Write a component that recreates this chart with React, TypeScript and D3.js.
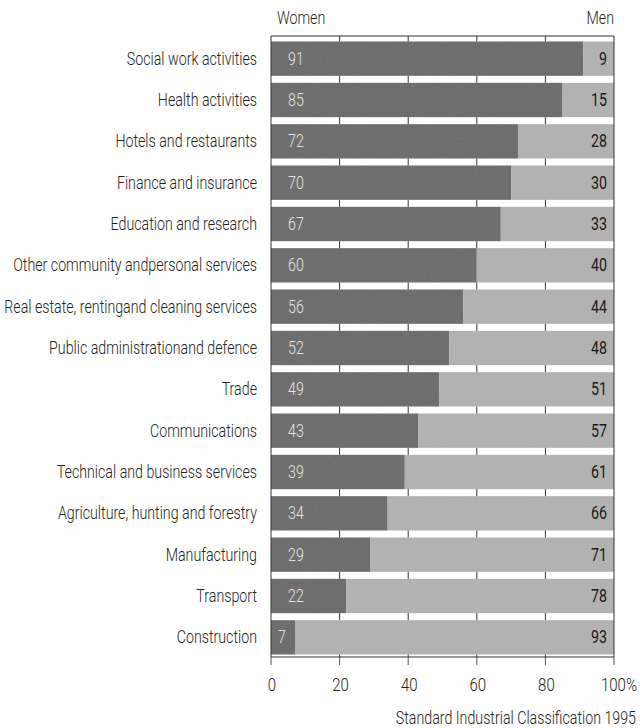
import React from "react";
import * as d3 from "d3";

const categories = [
  "Social work activities",
  "Health activities",
  "Hotels and restaurants",
  "Finance and insurance",
  "Education and research",
  "Other community andpersonal services",
  "Real estate, rentingand cleaning services",
  "Public administrationand defence",
  "Trade",
  "Communications",
  "Technical and business services",
  "Agriculture, hunting and forestry",
  "Manufacturing",
  "Transport",
  "Construction",
];
const women = [91, 85, 72, 70, 67, 60, 56, 52, 49, 43, 39, 34, 29, 22, 7];
const men = [9, 15, 28, 30, 33, 40, 44, 48, 51, 57, 61, 66, 71, 78, 93];
const ticks = [0, 20, 40, 60, 80, 100];
const tickLabels = ["0", "20", "40", "60", "80", "100%"];

const FONT = "Roboto, 'Liberation Sans', sans-serif";
const SX = 0.79;

function CText(props: { x: number; y: number; size: number; fill: string; anchor?: string; weight?: number; children: React.ReactNode }) {
  const { x, y, size, fill, anchor = "start", weight = 300, children } = props;
  return (
    <text
      transform={`translate(${x},${y}) scale(${SX},1)`}
      fontFamily={FONT}
      fontSize={size}
      fontWeight={weight}
      fill={fill}
      textAnchor={anchor}
    >
      {children}
    </text>
  );
}

export default function App() {
  const W = 640, H = 728;
  const left = 271, right = 614, top = 36, bottom = 657;
  const x = d3.scaleLinear().domain([0, 100]).range([left, right]);
  const y = d3.scaleBand<string>().domain(categories).range([top + 2, bottom + 1]).paddingInner(0.17).paddingOuter(0.085);
  const bw = y.bandwidth();
  const inner = ticks.filter((t) => t > 0 && t < 100);

  return (
    <svg width={W} height={H} style={{ position: "absolute", left: 0, top: 0, background: "#fff" }}>
      <defs>
        <filter id="grain" x="0" y="0" width="100%" height="100%">
          <feTurbulence type="fractalNoise" baseFrequency="0.9" numOctaves="2" seed="3" result="n" />
          <feColorMatrix in="n" type="matrix" values="0 0 0 0 0.5  0 0 0 0 0.5  0 0 0 0 0.5  0 0 0 0.12 0" result="g" />
          <feComposite in="g" in2="SourceGraphic" operator="in" result="gm" />
          <feMerge>
            <feMergeNode in="SourceGraphic" />
            <feMergeNode in="gm" />
          </feMerge>
        </filter>
      </defs>
      <CText x={277} y={24} size={18} fill="#222">Women</CText>
      <CText x={614} y={24} size={18} fill="#222" anchor="end">Men</CText>

      {categories.map((c, i) => {
        const y0 = y(c)!;
        const cy = y0 + bw / 2 + 6;
        const narrow = women[i] < 10;
        return (
          <g key={c}>
            <rect x={x(0)} y={y0} width={x(women[i]) - x(0)} height={bw} fill="#676767" filter="url(#grain)" />
            <rect x={x(women[i])} y={y0} width={x(100) - x(women[i])} height={bw} fill="#b1b1b1" filter="url(#grain)" />
            <CText
              x={narrow ? (x(0) + x(women[i])) / 2 - 1 : x(0) + 17}
              y={cy}
              size={18}
              fill="#e4e4e4"
              anchor={narrow ? "middle" : "start"}
            >
              {women[i]}
            </CText>
            <CText x={x(100) - 7} y={cy} size={18} fill="#1a1a1a" anchor="end" weight={400}>{men[i]}</CText>
            <CText x={257} y={cy} size={18} fill="#222" anchor="end">{c}</CText>
          </g>
        );
      })}

      {categories.map((c, i) => {
        const gTop = i === 0 ? top : y(categories[i - 1])! + bw;
        const gBot = y(c)!;
        return inner.map((t) => (
          <line key={c + t} x1={x(t)} x2={x(t)} y1={gTop} y2={gBot} stroke="#333" strokeWidth={1} />
        ));
      })}
      {inner.map((t) => (
        <line key={"b" + t} x1={x(t)} x2={x(t)} y1={y(categories[categories.length - 1])! + bw} y2={bottom} stroke="#333" strokeWidth={1} />
      ))}

      <line x1={left} x2={right} y1={top} y2={top} stroke="#333" strokeWidth={1} />
      <line x1={left} x2={right} y1={bottom} y2={bottom} stroke="#333" strokeWidth={1} />
      <line x1={left} x2={left} y1={top} y2={bottom} stroke="#333" strokeWidth={1} />
      <line x1={right} x2={right} y1={top} y2={bottom} stroke="#333" strokeWidth={1} />

      {ticks.map((t, i) => (
        <g key={"ax" + t}>
          <line x1={x(t)} x2={x(t)} y1={bottom} y2={bottom + 8} stroke="#555" strokeWidth={1} />
          <CText
            x={i === ticks.length - 1 ? x(t) + 23 : x(t) + 1}
            y={691}
            size={19}
            fill="#222"
            anchor={i === ticks.length - 1 ? "end" : "middle"}
          >
            {tickLabels[i]}
          </CText>
        </g>
      ))}
      <CText x={636} y={724} size={18} fill="#222" anchor="end">Standard Industrial Classification 1995</CText>
    </svg>
  );
}
